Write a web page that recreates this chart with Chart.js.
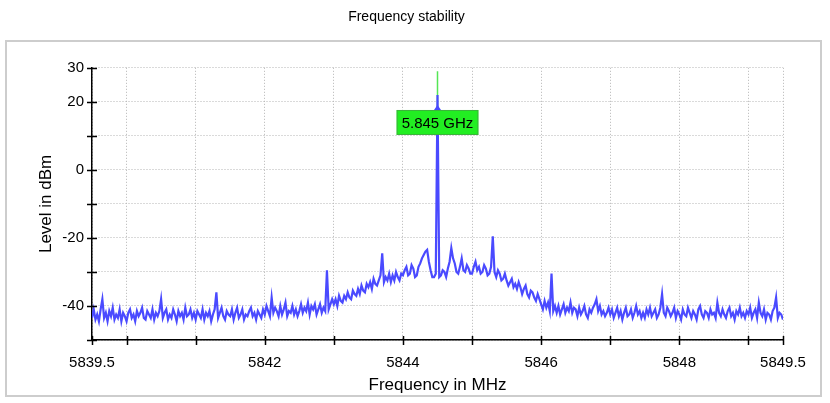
<!DOCTYPE html>
<html>
<head>
<meta charset="utf-8">
<title>Frequency stability</title>
<script src="https://cdn.jsdelivr.net/npm/chart.js@4.4.1/dist/chart.umd.min.js"></script>
<style>
    html, body { margin: 0; padding: 0; background: #fff; }
    #chart-wrap { position: relative; width: 830px; height: 403px; }
</style>
</head>
<body>
<div id="chart-wrap">
    <canvas id="spectrum" width="830" height="403"></canvas>
</div>
<script>
// sweep: 5839.5 .. 5849.5 MHz, one reading every 0.025 MHz
const freqStart = 5839.5;
const freqStep = 0.025;

// level in dBm (20 readings per 0.5 MHz)
const levels = [
    -43.5, -41.0, -44.0, -42.5, -44.5, -41.0, -38.0, -43.5, -42.0, -44.5, -41.5, -43.0, -40.5, -44.0, -42.5, -43.5, -41.0, -44.5, -42.0, -43.0,
    -44.5, -42.0, -41.0, -43.5, -42.5, -44.5, -41.5, -43.0, -42.0, -40.5, -43.5, -44.0, -41.5, -42.5, -43.5, -41.0, -44.0, -42.0, -43.0, -41.5,
    -38.0, -43.5, -42.0, -41.0, -44.0, -42.5, -43.5, -41.0, -42.5, -44.5, -41.5, -43.0, -42.0, -44.0, -40.5, -43.0, -42.5, -41.0, -43.5, -42.0,
    -44.0, -41.5, -42.5, -43.5, -41.0, -44.0, -42.0, -43.0, -41.5, -44.5, -42.5, -41.0, -36.0, -43.5, -42.0, -40.5, -43.0, -44.0, -41.5, -42.5,
    -43.0, -41.0, -44.0, -42.0, -40.5, -43.5, -42.5, -41.0, -44.0, -42.5, -43.0, -41.5, -40.5, -43.0, -42.0, -44.0, -41.5, -42.5, -43.5, -41.0,
    -42.5, -40.0, -41.5, -43.0, -37.5, -42.0, -40.5, -41.5, -43.0, -40.0, -42.5, -41.0, -39.0, -43.0, -41.5, -42.0, -40.0, -42.5, -41.0, -43.0,
    -41.5, -39.5, -42.0, -40.5, -41.5, -39.0, -42.5, -40.0, -41.0, -39.5, -42.5, -41.0, -39.5, -42.0, -40.5, -41.5, -29.5, -41.0, -39.5, -38.0,
    -39.5, -38.0, -40.0, -37.0, -38.5, -39.0, -37.0, -38.0, -36.0, -37.5, -38.0, -35.5, -36.5, -37.0, -35.0, -36.5, -34.0, -35.5, -36.0, -33.5,
    -34.5, -33.0, -35.0, -32.0, -33.5, -34.0, -32.5, -31.0, -24.5, -33.0, -31.5, -32.5, -30.5, -33.0, -31.0, -32.5, -30.0, -31.5, -32.5, -30.5,
    -31.0, -29.5, -28.5, -31.0, -30.5, -28.0, -29.0, -31.5, -31.0, -28.5, -27.5, -26.0, -25.0, -24.0, -23.5, -27.0, -29.5, -31.5, -31.5, -30.5,
    22.0, -31.5, -31.0, -29.5, -30.0, -31.5, -29.0, -27.0, -23.0, -26.0, -27.5, -30.0, -30.5, -28.5, -26.0, -29.5, -30.0, -28.0, -29.0, -30.5,
    -30.5, -28.5, -27.0, -29.5, -28.5, -30.5, -30.0, -28.0, -29.0, -31.0, -30.5, -28.5, -19.5, -30.0, -31.5, -29.5, -30.5, -32.5, -32.0, -30.5,
    -32.5, -34.0, -33.0, -32.0, -34.5, -33.5, -35.0, -33.0, -34.5, -36.5, -35.0, -34.0, -36.5, -37.5, -35.5, -36.0, -37.5, -38.5, -36.5, -38.0,
    -39.5, -41.0, -38.5, -40.5, -39.0, -41.5, -30.5, -41.5, -40.0, -42.0, -40.0, -42.5, -41.0, -39.5, -42.0, -40.5, -41.5, -39.0, -42.0, -40.5,
    -41.0, -43.0, -40.5, -42.5, -41.5, -40.0, -42.5, -43.5, -41.0, -42.0, -40.5, -39.5, -38.0, -41.5, -40.0, -42.5, -41.5, -43.0, -42.0, -40.5,
    -42.5, -41.0, -43.5, -42.0, -40.5, -43.0, -41.5, -44.0, -42.0, -40.5, -43.0, -42.5, -41.0, -43.5, -42.0, -40.0, -42.5, -41.5, -43.5, -42.0,
    -43.5, -41.0, -42.5, -40.5, -43.0, -42.0, -41.0, -43.5, -42.5, -40.5, -36.5, -42.0, -43.0, -40.5, -41.5, -43.0, -42.0, -40.5, -43.5, -41.5,
    -42.5, -44.0, -41.0, -42.5, -43.0, -40.5, -42.0, -43.5, -41.5, -42.5, -44.0, -41.0, -40.0, -42.5, -43.5, -41.5, -42.0, -43.5, -41.0, -42.5,
    -42.0, -43.5, -39.0, -42.0, -43.0, -41.0, -42.5, -43.5, -41.5, -40.5, -43.0, -42.0, -44.0, -41.5, -42.5, -40.5, -43.0, -42.0, -43.5, -41.5,
    -42.5, -40.5, -43.5, -42.0, -41.0, -43.5, -39.0, -42.0, -43.0, -41.0, -44.0, -42.0, -42.5, -44.0, -41.5, -40.5, -37.5, -43.5, -42.0, -42.5,
    -44.0
];

const xTicks = [5839.5, 5840, 5841, 5842, 5843, 5844, 5845, 5846, 5847, 5848, 5849, 5849.5];
const xTickLabels = [5839.5, 5842, 5844, 5846, 5848, 5849.5];
const yTicks = [-50, -40, -30, -20, -10, 0, 10, 20, 30];
const yTickLabels = [30, 20, 0, -20, -40];

// marker on the carrier
const markerFreq = 5844.5;
const markerLevels = [17.6, 29];
const markerText = '5.845 GHz';

const fontFamily = '"Liberation Sans", Arial, sans-serif';

const tracePoints = levels.map((level, i) => ({ x: freqStart + i * freqStep, y: level }));
const markerPoints = markerLevels.map((level) => ({ x: markerFreq, y: level }));

const decorPlugin = {
    id: 'decor',
    beforeDraw(chart) {
        const ctx = chart.ctx;
        ctx.save();
        ctx.fillStyle = '#fff';
        ctx.fillRect(0, 0, chart.width, chart.height);
        ctx.strokeStyle = '#cdcdcd';
        ctx.lineWidth = 2;
        ctx.strokeRect(6, 41, 815, 355);
        ctx.restore();
    },
    afterDatasetsDraw(chart) {
        const ctx = chart.ctx;
        const xs = chart.scales.x;
        const ys = chart.scales.y;
        const cx = xs.getPixelForValue(markerFreq);
        const top = ys.getPixelForValue(markerLevels[0]);

        ctx.save();
        ctx.font = `15px ${fontFamily}`;
        const w = ctx.measureText(markerText).width + 10;
        const h = 25;
        ctx.fillStyle = '#22ee22';
        ctx.fillRect(cx - w / 2, top, w, h);
        ctx.strokeStyle = '#3cb43c';
        ctx.lineWidth = 1;
        ctx.strokeRect(cx - w / 2 + 0.5, top + 0.5, w - 1, h - 1);
        ctx.fillStyle = '#000';
        ctx.textAlign = 'center';
        ctx.textBaseline = 'middle';
        ctx.fillText(markerText, cx, top + h / 2 + 1);

        ctx.fillStyle = '#4a4aff';
        ctx.beginPath();
        ctx.moveTo(cx - 3.5, top);
        ctx.lineTo(cx + 3.5, top);
        ctx.lineTo(cx, top - 5);
        ctx.closePath();
        ctx.fill();
        ctx.restore();
    },
    afterDraw(chart) {
        // tick marks crossing both axes
        const ctx = chart.ctx;
        const xs = chart.scales.x;
        const ys = chart.scales.y;
        const area = chart.chartArea;
        ctx.save();
        ctx.strokeStyle = '#000';
        ctx.lineWidth = 1.5;
        ctx.beginPath();
        xTicks.forEach((value) => {
            const px = Math.round(xs.getPixelForValue(value)) + 0.5;
            ctx.moveTo(px, area.bottom - 4);
            ctx.lineTo(px, area.bottom + 5);
        });
        yTicks.forEach((value) => {
            const py = Math.round(ys.getPixelForValue(value)) + 0.5;
            ctx.moveTo(area.left - 5, py);
            ctx.lineTo(area.left + 5, py);
        });
        ctx.stroke();
        ctx.restore();
    }
};

new Chart(document.getElementById('spectrum').getContext('2d'), {
    type: 'line',
    data: {
        datasets: [
            {
                label: 'Level',
                data: tracePoints,
                borderColor: '#4a4aff',
                borderWidth: 2.2,
                pointRadius: 0,
                tension: 0,
                order: 1
            },
            {
                label: 'Marker',
                data: markerPoints,
                borderColor: '#55e655',
                borderWidth: 1.5,
                pointRadius: 0,
                order: 2
            }
        ]
    },
    options: {
        responsive: false,
        animation: false,
        layout: {
            padding: { left: 30, right: 47, top: 0, bottom: 0 }
        },
        plugins: {
            legend: { display: false },
            tooltip: { enabled: false },
            title: {
                display: true,
                text: 'Frequency stability',
                color: '#000',
                font: { family: fontFamily, size: 14, weight: 'normal' },
                padding: { top: 9, bottom: 42 }
            }
        },
        scales: {
            x: {
                type: 'linear',
                min: 5839.5,
                max: 5849.5,
                afterBuildTicks: (scale) => {
                    scale.ticks = xTicks.map((value) => ({ value }));
                },
                afterFit: (scale) => {
                    scale.height = 63;
                },
                ticks: {
                    autoSkip: false,
                    maxRotation: 0,
                    padding: 14,
                    color: '#000',
                    font: { family: fontFamily, size: 15 },
                    callback: (value) => xTickLabels.includes(value) ? String(value) : ''
                },
                grid: {
                    color: '#b4b4b4',
                    lineWidth: 1,
                    drawTicks: false
                },
                border: {
                    display: true,
                    color: '#000',
                    width: 1.5,
                    dash: [1, 2]
                },
                title: {
                    display: true,
                    text: 'Frequency in MHz',
                    color: '#000',
                    font: { family: fontFamily, size: 17 },
                    padding: { top: 0, bottom: 7 }
                }
            },
            y: {
                min: -50,
                max: 30,
                afterBuildTicks: (scale) => {
                    scale.ticks = yTicks.map((value) => ({ value }));
                },
                afterFit: (scale) => {
                    scale.width = 62;
                },
                ticks: {
                    padding: 8,
                    color: '#000',
                    font: { family: fontFamily, size: 15 },
                    callback: (value) => yTickLabels.includes(value) ? String(value) : ''
                },
                grid: {
                    color: '#b4b4b4',
                    lineWidth: 1,
                    drawTicks: false
                },
                border: {
                    display: true,
                    color: '#000',
                    width: 1.5,
                    dash: [1, 2]
                },
                title: {
                    display: true,
                    text: 'Level in dBm',
                    color: '#000',
                    font: { family: fontFamily, size: 17 },
                    padding: { top: 6, bottom: 0 }
                }
            }
        }
    },
    plugins: [decorPlugin]
});
</script>
</body>
</html>
